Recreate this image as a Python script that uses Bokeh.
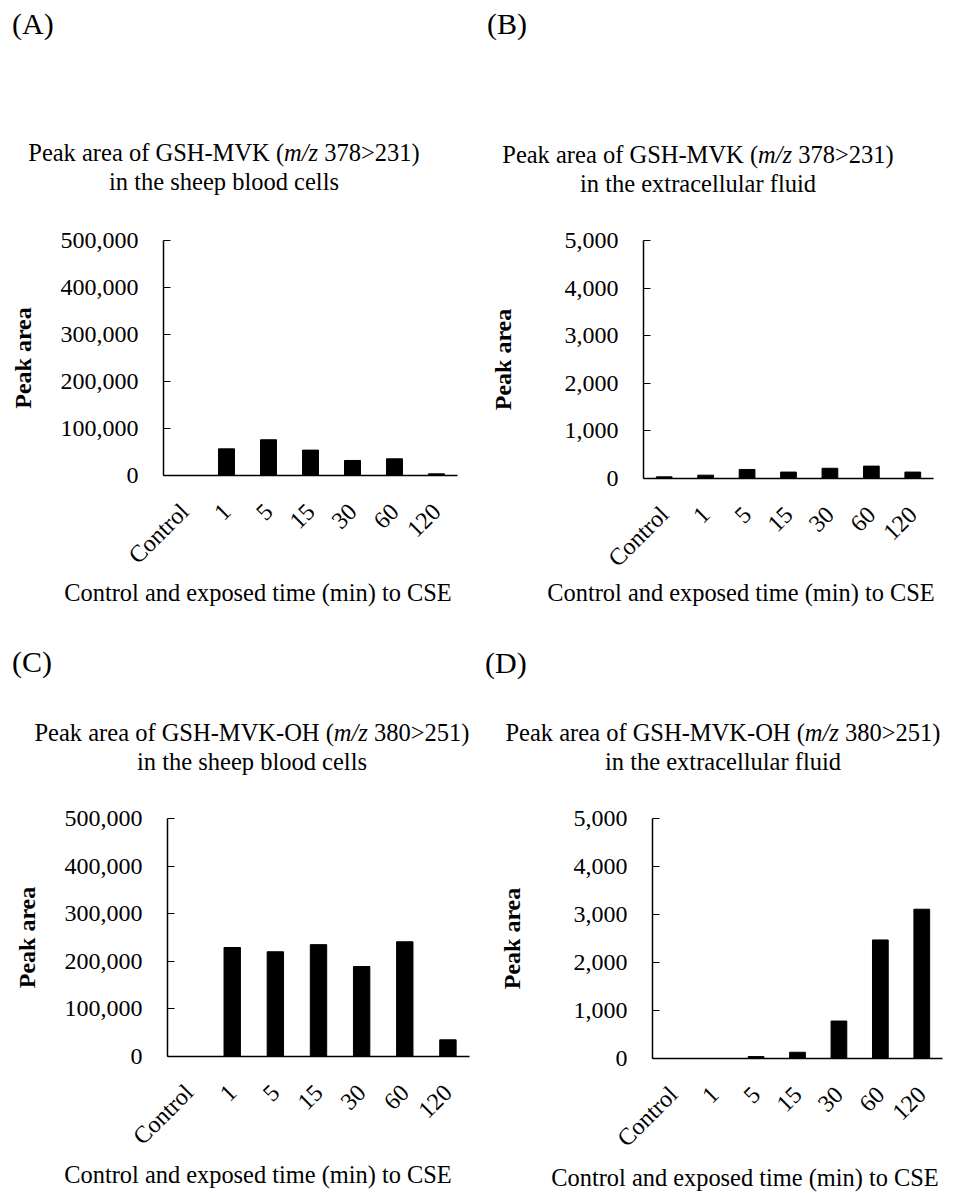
import math
from bokeh.plotting import figure
from bokeh.layouts import column, row
from bokeh.models import Range1d, FixedTicker, NumeralTickFormatter, ColumnDataSource, Div
from bokeh.embed import file_html
from bokeh.resources import INLINE

# ---------------- data ----------------
categories = ["Control", "1", "5", "15", "30", "60", "120"]
mvk_cells = [0, 56700, 76000, 54000, 32000, 35500, 3500]
mvk_fluid = [35, 70, 190, 135, 215, 260, 135]
mvkoh_cells = [0, 229000, 220000, 235000, 189000, 241000, 35000]
mvkoh_fluid = [0, 0, 40, 130, 780, 2470, 3110]

ticks_cells = [0, 100000, 200000, 300000, 400000, 500000]
ticks_fluid = [0, 1000, 2000, 3000, 4000, 5000]

panel_letters = ["(A)", "(B)", "(C)", "(D)"]
title_pre = ["Peak area of GSH-MVK (", "Peak area of GSH-MVK (",
             "Peak area of GSH-MVK-OH (", "Peak area of GSH-MVK-OH ("]
title_ital = "m/z"
title_post = [" 378&gt;231)", " 378&gt;231)", " 380&gt;251)", " 380&gt;251)"]
title_line2 = ["in the sheep blood cells", "in the extracellular fluid",
               "in the sheep blood cells", "in the extracellular fluid"]
y_title = "Peak area"
x_title = "Control and exposed time (min) to CSE"

FONT = "Liberation Serif"


def top_div(idx, width, height, letter_x, letter_cy, title_cx, line1_cy):
    html = (
        f'<div style="position:relative;width:{width}px;height:{height}px;'
        f'font-family:\'{FONT}\',serif;color:black;">'
        f'<div style="position:absolute;left:{letter_x}px;top:{letter_cy - 17.5}px;'
        f'font-size:30px;line-height:30px;white-space:nowrap;">{panel_letters[idx]}</div>'
        f'<div style="position:absolute;left:{title_cx - 260}px;width:520px;top:{line1_cy - 14.5}px;'
        f'text-align:center;font-size:24.5px;line-height:29px;white-space:nowrap;">'
        f'{title_pre[idx]}<i>{title_ital}</i>{title_post[idx]}<br>{title_line2[idx]}</div>'
        f'</div>'
    )
    return Div(text=html, width=width, height=height, margin=0,
               styles={"overflow": "visible"})


def bottom_div(width, height, cx, cy):
    html = (
        f'<div style="position:relative;width:{width}px;height:{height}px;'
        f'font-family:\'{FONT}\',serif;color:black;">'
        f'<div style="position:absolute;left:{cx - 240}px;width:480px;top:{cy - 13}px;'
        f'text-align:center;font-size:24.4px;line-height:26px;white-space:nowrap;">{x_title}</div>'
        f'</div>'
    )
    return Div(text=html, width=width, height=height, margin=0,
               styles={"overflow": "visible"})


def make_fig(values, ticks, width, height, bl, br, bt, bb, ylab_standoff):
    p = figure(x_range=categories, y_range=Range1d(0, ticks[-1]),
               width=width, height=height, output_backend="svg",
               toolbar_location=None, tools="",
               min_border_left=bl, min_border_right=br,
               min_border_top=bt, min_border_bottom=bb)
    p.x_range.range_padding = 0
    src = ColumnDataSource(dict(cat=categories, val=values))
    p.vbar(x="cat", top="val", width=0.38, source=src, fill_color="black", line_color="black")
    p.grid.visible = False
    p.outline_line_color = None
    p.background_fill_color = "white"
    p.border_fill_color = "white"

    p.yaxis.ticker = FixedTicker(ticks=ticks)
    p.yaxis.formatter = NumeralTickFormatter(format="0,0")
    p.yaxis.major_tick_in = 7
    p.yaxis.major_tick_out = 0
    p.yaxis.minor_tick_line_color = None
    p.yaxis.major_label_standoff = 25
    p.yaxis.major_label_text_font = FONT
    p.yaxis.major_label_text_font_size = "24px"
    p.yaxis.major_label_text_color = "black"
    p.yaxis.axis_line_width = 1.5
    p.yaxis.axis_line_color = "black"
    p.yaxis.major_tick_line_color = "black"
    p.yaxis.axis_label = y_title
    p.yaxis.axis_label_text_font = FONT
    p.yaxis.axis_label_text_font_size = "24px"
    p.yaxis.axis_label_text_font_style = "bold"
    p.yaxis.axis_label_text_color = "black"
    p.yaxis.axis_label_standoff = ylab_standoff

    p.xaxis.major_tick_line_color = None
    p.xaxis.minor_tick_line_color = None
    p.xaxis.major_label_orientation = math.pi / 4
    p.xaxis.major_label_standoff = 26
    p.xaxis.major_label_text_font = FONT
    p.xaxis.major_label_text_font_size = "24px"
    p.xaxis.major_label_text_color = "black"
    p.xaxis.axis_line_width = 1.5
    p.xaxis.axis_line_color = "black"
    return p


# column A (x 0..470), column B (x 470..950)
W1, W2 = 470, 480
BB = 110  # bottom border (room for the rotated category labels)
# row 1: top div 0..200, figure from 200, bottom div to 610
pA = make_fig(mvk_cells, ticks_cells, W1, 40 + 235 + BB, 163, 13, 40, BB, 22)
pB = make_fig(mvk_fluid, ticks_fluid, W2, 40 + 238 + BB, 173, 17, 40, BB, 46)
# row 2: top div 610..790, figure from 790, bottom div to 1190
pC = make_fig(mvkoh_cells, ticks_cells, W1, 28 + 238 + BB, 167, 1, 28, BB, 22)
pD = make_fig(mvkoh_fluid, ticks_fluid, W2, 28 + 240 + BB, 182, 8, 28, BB, 46)

hA = 610 - 200 - pA.height
hB = 610 - 200 - pB.height
hC = 1190 - 790 - pC.height
hD = 1190 - 790 - pD.height

colA = column(top_div(0, W1, 200, 12, 26, 224, 152), pA,
              bottom_div(W1, hA, 258, 593 - (610 - hA)), spacing=0)
colB = column(top_div(1, W2, 200, 17, 26, 228, 154), pB,
              bottom_div(W2, hB, 271, 593 - (610 - hB)), spacing=0)
colC = column(top_div(2, W1, 180, 12, 54, 252, 122), pC,
              bottom_div(W1, hC, 258, 1175 - (1190 - hC)), spacing=0)
colD = column(top_div(3, W2, 180, 15, 55, 253, 122), pD,
              bottom_div(W2, hD, 275, 1178 - (1190 - hD)), spacing=0)

layout = column(row(colA, colB, spacing=0), row(colC, colD, spacing=0), spacing=0)
open("out.html", "w").write(file_html(layout, INLINE))
